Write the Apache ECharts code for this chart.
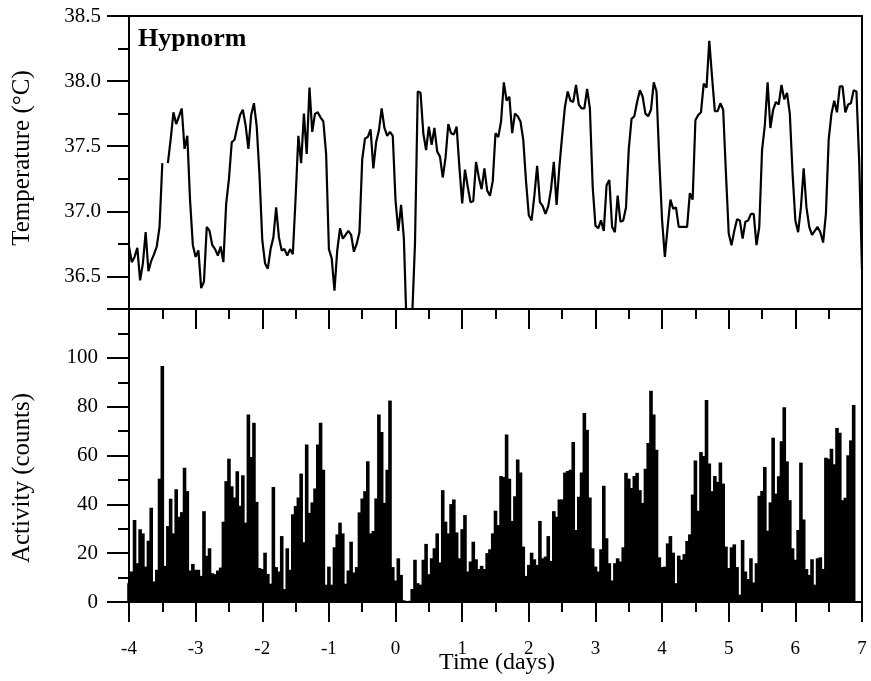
<!DOCTYPE html>
<html>
<head>
<meta charset="utf-8">
<script src="https://cdn.jsdelivr.net/npm/echarts@6/dist/echarts.min.js"></script>
<style>
html,body{margin:0;padding:0;background:#fff;}
#chart{width:871px;height:681px;}
</style>
</head>
<body>
<div id="chart"></div>
<script>
// ---- data ----
const START_DAY = -4;
const SAMPLES_PER_DAY = 24; // hourly samples
const xTickValues = [-4, -3, -2, -1, 0, 1, 2, 3, 4, 5, 6, 7];
const tempTickLabels = [36.5, 37.0, 37.5, 38.0, 38.5];
const activityTickLabels = [0, 20, 40, 60, 80, 100];

const temperature = [
36.73,36.61,36.65,36.72,36.47,36.60,36.84,36.54,36.62,36.67,36.73,36.88,37.37,null,37.37,37.55,
37.76,37.67,37.73,37.79,37.48,37.58,37.08,36.74,36.65,36.70,36.41,36.46,36.88,36.85,36.74,36.71,
36.66,36.73,36.61,37.06,37.25,37.53,37.55,37.65,37.74,37.78,37.66,37.48,37.74,37.83,37.65,37.28,
36.78,36.60,36.56,36.71,36.80,37.03,36.80,36.70,36.71,36.66,36.71,36.67,37.10,37.58,37.37,37.75,
37.44,37.95,37.61,37.75,37.76,37.72,37.69,37.44,36.71,36.64,36.39,36.70,36.87,36.79,36.82,36.85,
36.82,36.69,36.75,36.84,37.40,37.56,37.57,37.63,37.33,37.53,37.62,37.79,37.64,37.58,37.61,37.58,
37.08,36.85,37.05,36.79,36.10,36.05,36.20,36.75,37.92,37.91,37.60,37.47,37.65,37.51,37.64,37.46,
37.42,37.26,37.41,37.67,37.60,37.59,37.65,37.34,37.06,37.32,37.19,37.07,37.08,37.38,37.26,37.17,
37.33,37.16,37.12,37.23,37.60,37.57,37.69,37.99,37.85,37.88,37.60,37.75,37.73,37.69,37.55,37.23,
36.97,36.93,37.12,37.35,37.07,37.04,36.98,37.04,37.17,37.38,37.05,37.34,37.58,37.80,37.92,37.85,
37.84,37.97,37.82,37.79,37.79,37.94,37.79,37.19,36.89,36.87,36.93,36.85,37.20,37.24,36.88,36.84,
37.12,36.92,36.93,37.03,37.48,37.71,37.73,37.84,37.93,37.88,37.75,37.73,37.78,37.99,37.92,37.39,
36.93,36.65,36.88,37.09,37.02,37.03,36.88,36.88,36.88,36.88,37.14,37.09,37.70,37.74,37.76,37.98,
37.95,38.31,38.03,37.77,37.77,37.83,37.78,37.29,36.83,36.74,36.85,36.94,36.93,36.79,36.92,36.93,
36.98,36.98,36.74,36.88,37.47,37.66,37.99,37.64,37.78,37.84,37.82,37.97,37.86,37.91,37.75,37.29,
36.93,36.84,37.03,37.33,37.03,36.88,36.82,36.85,36.88,36.84,36.76,36.98,37.55,37.75,37.85,37.76,
37.96,37.96,37.76,37.82,37.83,37.93,37.92,37.38,36.55
];

const activity = [
7.7,12.5,33.6,15.9,29.8,28.1,14.5,25.1,38.6,8.4,13.2,50.5,96.7,14.8,31.1,42.3,
28.1,46.2,34.9,36.8,55.0,45.4,12.9,15.6,13.2,13.2,10.7,37.2,18.9,22.0,11.8,11.4,
12.9,14.1,32.9,49.5,58.7,47.4,42.8,53.5,39.4,51.9,32.5,76.8,59.4,73.4,41.0,13.9,
13.5,20.2,11.5,7.5,47.1,14.3,12.5,27.0,5.3,22.0,13.2,35.9,39.3,42.8,52.6,
24.5,64.5,36.5,40.8,46.5,64.5,73.4,54.2,7.1,14.5,7.1,22.4,27.7,32.5,28.1,7.5,
12.9,24.7,12.1,14.3,36.7,42.4,45.4,57.6,28.1,29.1,42.4,76.8,69.6,40.6,54.2,82.5,
14.3,8.8,17.9,11.1,0.7,0.3,0.5,5.3,17.3,7.7,7.1,17.3,23.8,11.4,17.9,22.0,
28.1,16.2,45.8,32.9,28.1,40.1,42.0,28.5,17.9,29.8,35.6,12.5,16.6,24.7,17.5,13.5,
14.8,13.5,20.0,21.6,
28.1,37.4,31.5,51.6,51.2,68.6,50.5,33.2,43.3,58.4,53.0,22.7,10.7,15.2,20.2,17.5,
15.2,33.2,17.9,18.6,27.0,16.8,37.2,34.9,42.0,42.0,53.0,53.7,54.2,65.5,29.5,43.1,
53.0,77.4,70.5,42.8,22.0,14.5,12.5,21.6,47.6,26.1,15.9,8.8,15.9,17.9,16.6,22.4,
52.9,50.5,46.7,51.6,52.9,45.8,40.6,54.6,65.1,86.5,76.8,62.4,18.3,14.3,14.5,24.0,
27.0,20.2,7.7,19.0,
17.3,19.6,25.0,27.7,44.0,58.0,37.4,61.4,59.8,82.7,56.7,45.4,51.6,49.2,57.1,48.5,
22.7,13.9,22.4,23.6,14.3,3.0,25.4,12.5,9.4,17.9,8.0,15.9,43.5,45.5,55.3,29.2,
40.8,67.3,44.4,51.5,65.8,79.8,57.6,41.7,22.0,17.3,29.5,57.1,33.8,13.5,11.1,17.5,
7.1,17.9,18.3,13.5,59.1,58.7,62.8,56.4,71.3,69.3,41.7,42.7,60.1,66.2,80.7
];

// ---- build series data ----
const tempData = temperature.map((v, i) => [START_DAY + i / SAMPLES_PER_DAY, v]);
const actData = activity.map((v, i) => [START_DAY + i / SAMPLES_PER_DAY, v]);

const FONT = 'Liberation Serif';
const black = '#000';

const chart = echarts.init(document.getElementById('chart'), null, {renderer: 'canvas'});

const commonTickStyle = {color: black, width: 2};

const option = {
  backgroundColor: '#fff',
  animation: false,
  grid: [
    {left: 129, right: 9, top: 16, height: 293, show: true, borderColor: black, borderWidth: 2, backgroundColor: 'transparent'},
    {left: 129, right: 9, top: 309, height: 293, show: true, borderColor: black, borderWidth: 2, backgroundColor: 'transparent'}
  ],
  xAxis: [
    {gridIndex: 0, type: 'value', min: -4, max: 7, interval: 1, show: false},
    {gridIndex: 1, type: 'value', min: -4, max: 7, interval: 1, position: 'bottom',
      axisLine: {show: true, onZero: false, lineStyle: {color: black, width: 2}},
      axisTick: {show: true, inside: false, length: 20, lineStyle: commonTickStyle},
      minorTick: {show: true, splitNumber: 2, length: 10, lineStyle: commonTickStyle},
      splitLine: {show: false}, minorSplitLine: {show: false},
      axisLabel: {show: true, margin: 38, color: black, fontFamily: FONT, fontSize: 19,
        customValues: xTickValues, formatter: v => String(v)}
    },
    {gridIndex: 1, type: 'value', min: -4, max: 7, interval: 1, position: 'top',
      axisLine: {show: true, onZero: false, lineStyle: {color: black, width: 2}},
      axisTick: {show: true, inside: true, length: 20, lineStyle: commonTickStyle},
      minorTick: {show: true, splitNumber: 2, length: 10, lineStyle: commonTickStyle},
      splitLine: {show: false}, minorSplitLine: {show: false},
      axisLabel: {show: false}
    }
  ],
  yAxis: [
    {gridIndex: 0, type: 'value', min: 36.25, max: 38.5, interval: 0.25, position: 'left',
      axisLine: {show: true, onZero: false, lineStyle: {color: black, width: 2}},
      axisTick: {show: true, inside: false, length: 11, lineStyle: commonTickStyle},
      splitLine: {show: false},
      axisLabel: {show: false}
    },
    {gridIndex: 0, type: 'value', min: 36.25, max: 38.5, position: 'left',
      axisLine: {show: false, onZero: false},
      axisTick: {show: true, inside: false, length: 22, lineStyle: commonTickStyle, customValues: tempTickLabels},
      splitLine: {show: false},
      axisLabel: {show: true, margin: 28, color: black, fontFamily: FONT, fontSize: 21,
        customValues: tempTickLabels, formatter: v => v.toFixed(1)}
    },
    {gridIndex: 1, type: 'value', min: 0, max: 120, interval: 20, position: 'left',
      axisLine: {show: true, onZero: false, lineStyle: {color: black, width: 2}},
      axisTick: {show: true, inside: false, length: 22, lineStyle: commonTickStyle},
      minorTick: {show: true, splitNumber: 2, length: 11, lineStyle: commonTickStyle},
      splitLine: {show: false}, minorSplitLine: {show: false},
      axisLabel: {show: true, margin: 31, color: black, fontFamily: FONT, fontSize: 21,
        customValues: activityTickLabels, formatter: v => String(v)}
    }
  ],
  series: [
    {type: 'line', xAxisIndex: 0, yAxisIndex: 0, data: tempData, showSymbol: false, symbol: 'none',
      connectNulls: false, clip: true,
      lineStyle: {color: black, width: 2.2}, itemStyle: {color: black}},
    {type: 'bar', xAxisIndex: 1, yAxisIndex: 2, data: actData, barWidth: 3.6, clip: true,
      itemStyle: {color: black}}
  ],
  graphic: [
    {type: 'text', left: 138, top: 26, style: {text: 'Hypnorm', font: 'bold 26px "Liberation Serif"', fill: black}},
    {type: 'text', x: 22, y: 158, rotation: Math.PI / 2,
      style: {text: 'Temperature (°C)', font: '25px "Liberation Serif"', fill: black, align: 'center', verticalAlign: 'middle'}},
    {type: 'text', x: 22, y: 478, rotation: Math.PI / 2,
      style: {text: 'Activity (counts)', font: '25px "Liberation Serif"', fill: black, align: 'center', verticalAlign: 'middle'}},
    {type: 'text', x: 497, y: 663,
      style: {text: 'Time (days)', font: '24px "Liberation Serif"', fill: black, align: 'center', verticalAlign: 'middle'}}
  ]
};
chart.setOption(option);
</script>
</body>
</html>
